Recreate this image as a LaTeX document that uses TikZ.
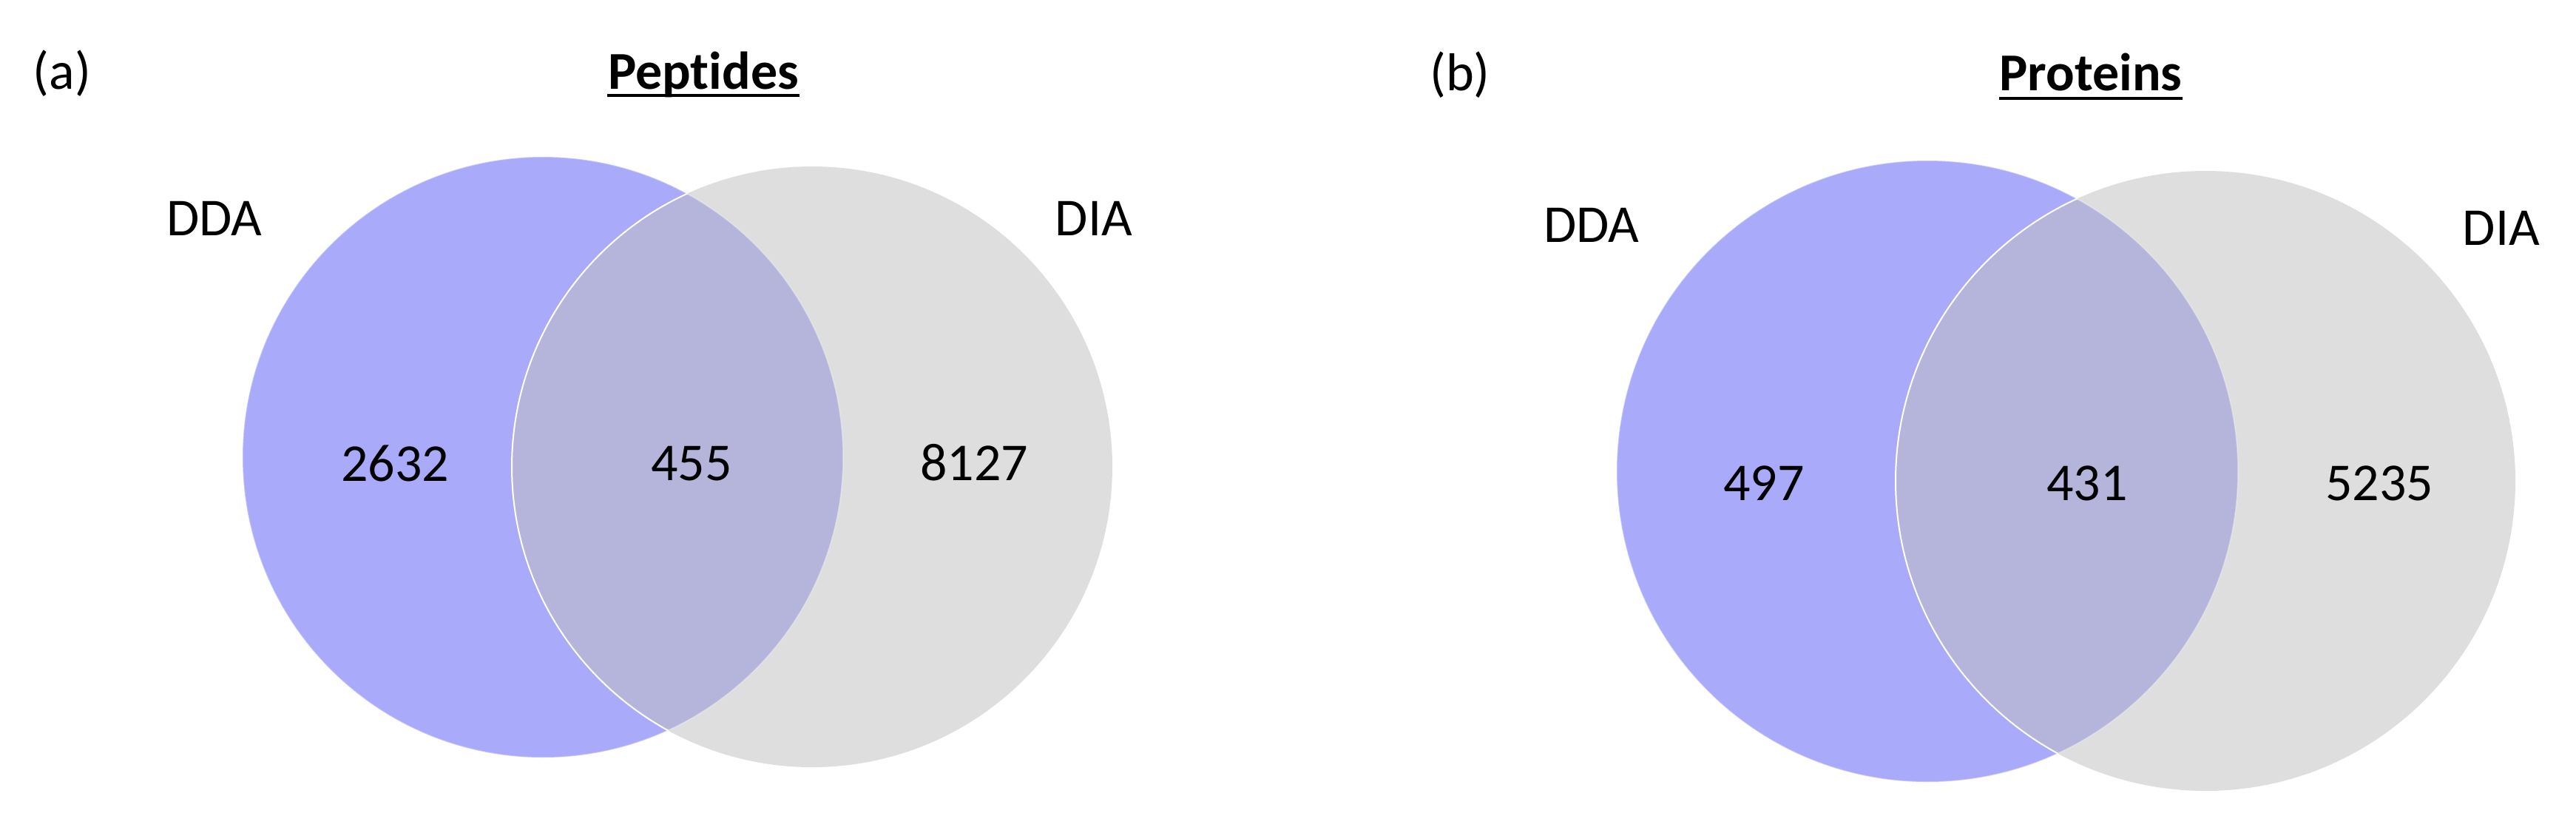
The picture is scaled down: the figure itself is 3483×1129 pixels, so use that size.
\documentclass[tikz,border=0pt]{standalone}
\usepackage{fontspec}
\setmainfont{Carlito}[Ligatures={NoCommon,NoRare,NoContextual}]
\definecolor{vblue}{RGB}{170,170,250}
\definecolor{vgray}{RGB}{222,222,222}
\definecolor{vover}{RGB}{181,181,220}
\begin{document}
\begin{tikzpicture}[x=0.25pt,y=-0.25pt,
  lbl/.style={inner sep=0pt, anchor=base, font=\fontsize{18pt}{21pt}\selectfont},
  ttl/.style={inner sep=0pt, anchor=base, font=\fontsize{18pt}{21pt}\selectfont\bfseries},
  ul/.style={line width=1pt, black},
  edge/.style={white, line width=0.5pt}]
\useasboundingbox (0,0) rectangle (3483,1129);
% ---- panel (a)
\fill[vblue] (734,618) circle (406);
\fill[vgray] (1098,631) circle (406);
\begin{scope}
  \clip (734,618) circle (406);
  \fill[vover] (1098,631) circle (406);
\end{scope}
\begin{scope}
  \clip (734,618) circle (406);
  \draw[edge] (1098,631) circle (406);
\end{scope}
\draw[white, opacity=0.35, line width=0.4pt] (734,618) circle (406);
\node[lbl] (la) at (84,120) {(a)};
\node[ttl] (tpep) at (951,120) {Pep{}tides};
\draw[ul] ([yshift=-2.3pt]tpep.base west) -- ([yshift=-2.3pt]tpep.base east);
\node[lbl] (ddaA) at (290,318) {DDA};
\node[lbl] (diaA) at (1479,318) {DIA};
\node[lbl] (nA1) at (534,650) {2632};
\node[lbl] (nA2) at (935,649) {455};
\node[lbl] (nA3) at (1317,649) {8127};
% ---- panel (b)
\fill[vblue] (2606,637) circle (420);
\fill[vgray] (2982,650) circle (419);
\begin{scope}
  \clip (2606,637) circle (420);
  \fill[vover] (2982,650) circle (419);
\end{scope}
\begin{scope}
  \clip (2606,637) circle (420);
  \draw[edge] (2982,650) circle (419);
\end{scope}
\draw[white, opacity=0.35, line width=0.4pt] (2606,637) circle (420);
\node[lbl] (lb) at (1974,122) {(b)};
\node[ttl] (tpro) at (2827,122) {Proteins};
\draw[ul] ([yshift=-2.8pt]tpro.base west) -- ([yshift=-2.8pt]tpro.base east);
\node[lbl] (ddaB) at (2152,327) {DDA};
\node[lbl] (diaB) at (3382,331) {DIA};
\node[lbl] (nB1) at (2385,676) {497};
\node[lbl] (nB2) at (2822,676) {431};
\node[lbl] (nB3) at (3217,676) {5235};
\end{tikzpicture}
\end{document}
